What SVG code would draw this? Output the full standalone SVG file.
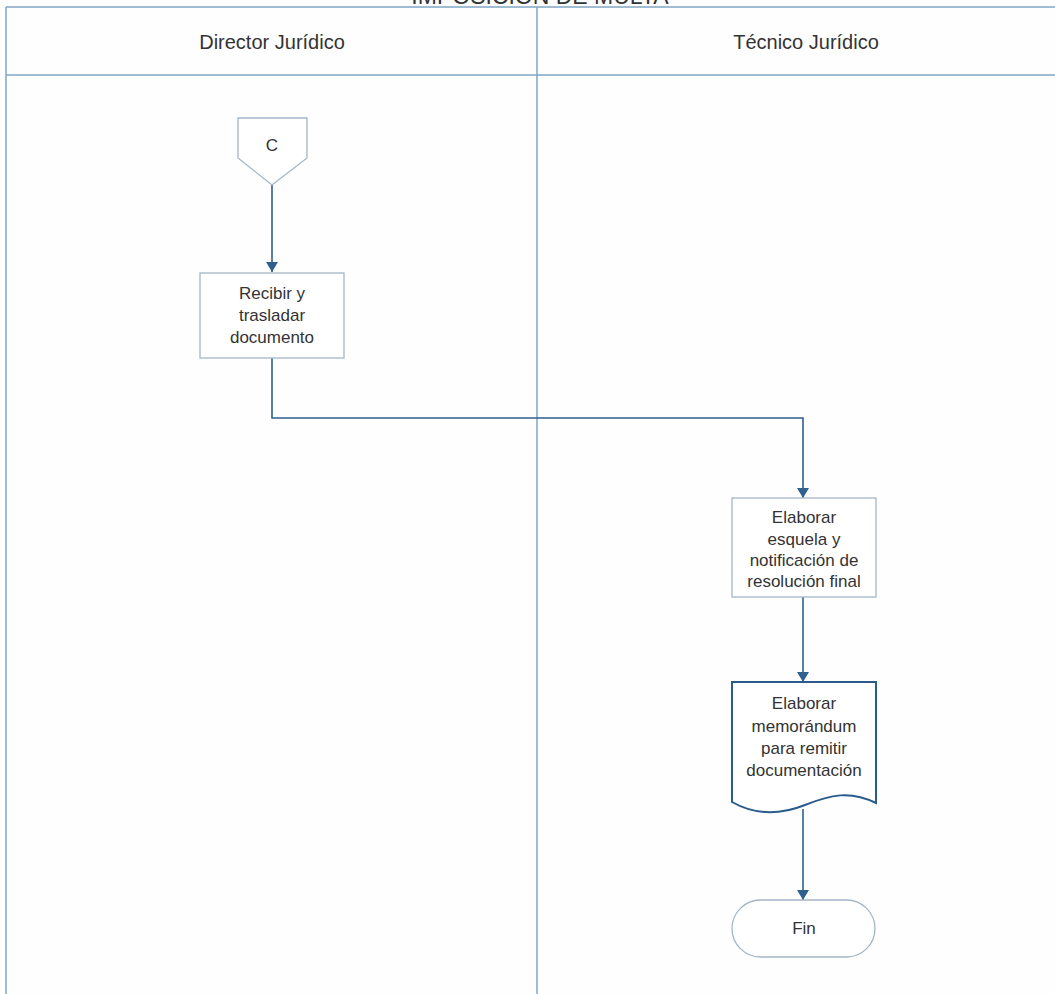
<svg xmlns="http://www.w3.org/2000/svg" width="1055" height="994" viewBox="0 0 1055 994">
<style>
text{font-family:"Liberation Sans",Arial,sans-serif;fill:#333;text-anchor:middle}
.lane{stroke:#7fa6c4;stroke-width:1.5;fill:none}
.hdr{font-size:20px}
.lbl{font-size:17px}
.box{fill:#fff;stroke:#a3b6c6;stroke-width:1.3}
.doc{fill:#fff;stroke:#2a5b8e;stroke-width:2}
.edge{stroke:#2f5f8f;stroke-width:1.6;fill:none;marker-end:url(#ah)}
</style>
<defs>
<marker id="ah" viewBox="0 0 10 12" refX="10" refY="6" markerWidth="10" markerHeight="12" markerUnits="userSpaceOnUse" orient="auto">
<path d="M0,0 L10,6 L0,12 z" fill="#2f5f8f"/>
</marker>
</defs>
<rect width="1055" height="994" fill="#fefefe"/>
<g id="pool">
<text x="540" y="4" style="font-size:23px">IMPOSICIÓN DE MULTA</text>
<line class="lane" x1="6" y1="7" x2="1055" y2="7"/>
<line class="lane" x1="6" y1="75" x2="1055" y2="75"/>
<line class="lane" x1="6" y1="7" x2="6" y2="994"/>
<line class="lane" x1="537" y1="7" x2="537" y2="994"/>
<text class="hdr" x="272" y="49">Director Jurídico</text>
<text class="hdr" x="806" y="49">Técnico Jurídico</text>
</g>
<g id="connectors">
<path class="edge" d="M272,185 L272,272"/>
<path class="edge" d="M272,358 L272,418 L803,418 L803,498"/>
<path class="edge" d="M803,597 L803,682"/>
<path class="edge" d="M803,809 L803,900"/>
</g>
<g id="nodeC">
<path class="box" d="M238,118 L307,118 L307,158 L272,185 L238,158 Z"/>
<text class="lbl" x="272" y="151">C</text>
</g>
<g id="nodeRecibir">
<rect class="box" x="200" y="273" width="144" height="85"/>
<text class="lbl" x="272" y="299">Recibir y</text>
<text class="lbl" x="272" y="321">trasladar</text>
<text class="lbl" x="272" y="343">documento</text>
</g>
<g id="nodeElaborarEsquela">
<rect class="box" x="732" y="498" width="144" height="99"/>
<text class="lbl" x="804" y="523">Elaborar</text>
<text class="lbl" x="804" y="545">esquela y</text>
<text class="lbl" x="804" y="566">notificación de</text>
<text class="lbl" x="804" y="587">resolución final</text>
</g>
<g id="nodeMemorandum">
<path class="doc" d="M732,682 L876,682 L876,803 C850,790 830,795 805,805 C780,815 755,815 732,802 Z"/>
<text class="lbl" x="804" y="709">Elaborar</text>
<text class="lbl" x="804" y="732">memorándum</text>
<text class="lbl" x="804" y="754">para remitir</text>
<text class="lbl" x="804" y="776">documentación</text>
</g>
<g id="nodeFin">
<rect class="box" x="732" y="900" width="143" height="57" rx="28.5" ry="28.5"/>
<text class="lbl" x="804" y="934">Fin</text>
</g>
</svg>
